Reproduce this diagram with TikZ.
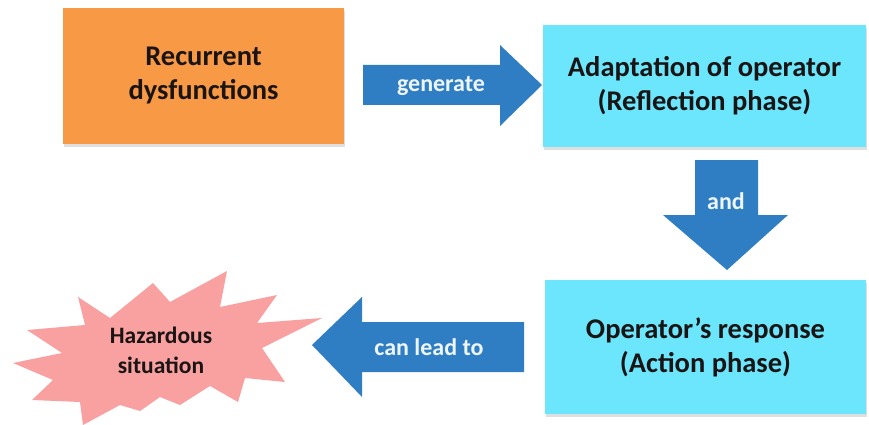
\documentclass[tikz,border=0pt]{standalone}
\usepackage{fontspec}
\setmainfont{Carlito}
\usetikzlibrary{shadows}
\definecolor{boxorange}{HTML}{F89A45}
\definecolor{boxcyan}{HTML}{6CE6FC}
\definecolor{arrowblue}{HTML}{2F7EC3}
\definecolor{starpink}{HTML}{F9A0A0}
\definecolor{labelwhite}{HTML}{EEF6FC}
\definecolor{textdark}{HTML}{1A1414}
\tikzset{
  boxstyle/.style={inner sep=0pt, align=center, font=\fontsize{28.5}{34}\selectfont\bfseries, text=textdark,
    drop shadow={shadow xshift=1pt, shadow yshift=-3pt, opacity=0.25}},
  arrowbody/.style={fill=arrowblue, draw=none},
  arrowlabel/.style={font=\fontsize{24}{28}\selectfont\bfseries, text=labelwhite, inner sep=0pt},
  starlabel/.style={font=\fontsize{23.5}{30}\selectfont\bfseries, text=textdark, align=center, inner sep=0pt}
}
\begin{document}
\begin{tikzpicture}[x=1pt,y=-1pt]
\useasboundingbox (0,0) rectangle (869,425);
% boxes
\node[boxstyle, fill=boxorange, minimum width=281pt, minimum height=136pt] (rec) at (203.5,76) {Recurrent\\dysfunctions};
\node[boxstyle, fill=boxcyan, minimum width=323pt, minimum height=122pt] (adapt) at (704.5,86) {Adaptation of operator\\(Reflection phase)};
\node[boxstyle, fill=boxcyan, minimum width=321pt, minimum height=134pt] (resp) at (705.5,347) {Operator’s response\\(Action phase)};
% generate arrow
\path[arrowbody] (363,65) -- (500,65) -- (500,45) -- (542,85) -- (500,126) -- (500,105) -- (363,105) -- cycle;
\node[arrowlabel] (gen) at (441,86) {generate};
% and arrow
\path[arrowbody] (695,160) -- (758,160) -- (758,215) -- (788,215) -- (727,270) -- (663,215) -- (695,215) -- cycle;
\node[arrowlabel] (and) at (726,201) {and};
% can lead to arrow
\path[arrowbody] (524,322) -- (362,322) -- (362,297) -- (312,345) -- (362,397) -- (362,372) -- (524,372) -- cycle;
\node[arrowlabel] (lead) at (429,347) {can lead to};
% star
\path[fill=starpink] (78,297) -- (110,318) -- (153,283) -- (170,302) -- (227,271) -- (220,307) -- (277,295) -- (257,323)
  -- (322,318) -- (262,348) -- (285,382) -- (245,378) -- (238,402) -- (210,386) -- (180,405) -- (160,397)
  -- (140,411) -- (120,405) -- (83,425) -- (80,402)
  -- (32,400) -- (53,380) -- (13,363) -- (62,353) -- (27,330) -- (85,325) -- cycle;
\node[starlabel] (haz) at (161,350) {Hazardous\\situation};
\end{tikzpicture}
\end{document}
